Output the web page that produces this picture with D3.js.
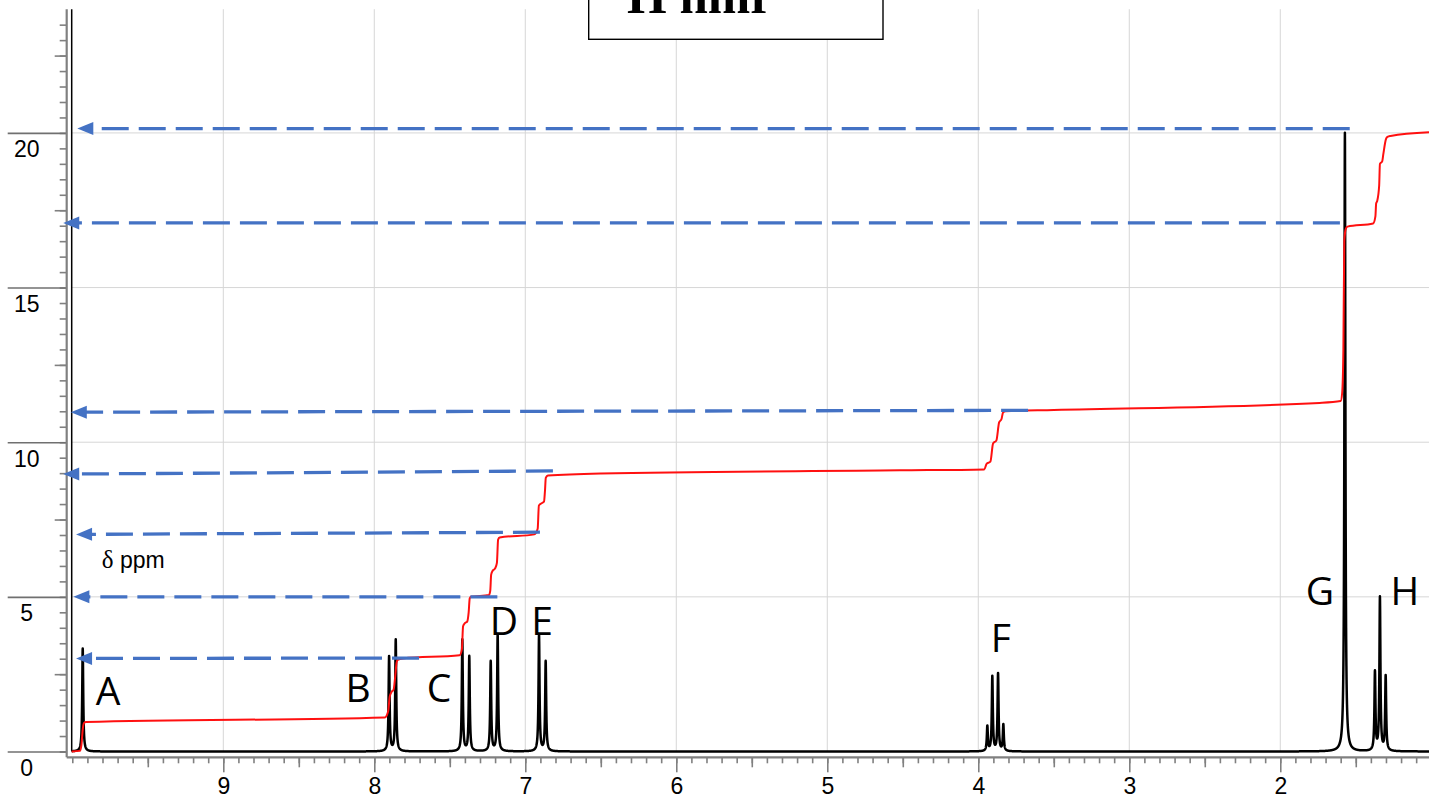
<!DOCTYPE html>
<html>
<head>
<meta charset="utf-8">
<script src="https://d3js.org/d3.v7.min.js"></script>
<style>
  body { margin: 0; background: #fff; }
  svg { display: block; }
</style>
</head>
<body>
<div id="chart"></div>
<script>
// peak list (ppm, height in integral units)
const peakPpm    = [9.931, 7.902, 7.858, 7.417, 7.371, 7.229, 7.183, 6.909, 6.865,
                    3.940, 3.907, 3.869, 3.834, 1.572, 1.373, 1.340, 1.302];
const peakHeight = [3.33, 3.06, 3.60, 3.60, 3.06, 2.90, 3.76, 3.76, 2.90,
                    0.80, 2.41, 2.50, 0.85, 20.0, 2.54, 4.95, 2.41];
const lineWidthPpm = 0.004;

// integral trace (ppm, value)
const integralPpm = [10.004, 9.95, 9.94, 9.93, 9.922, 9.91, 7.93, 7.908, 7.898, 7.885, 7.872, 7.862,
  7.852, 7.845, 7.81, 7.435, 7.42, 7.412, 7.40, 7.385, 7.375, 7.368, 7.36, 7.24, 7.232, 7.226,
  7.215, 7.20, 7.188, 7.18, 7.17, 6.94, 6.918, 6.91, 6.895, 6.876, 6.87, 6.864, 6.85, 6.5, 4.52,
  3.96, 3.945, 3.92, 3.902, 3.88, 3.862, 3.846, 3.836, 3.82, 3.5, 1.74, 1.60, 1.59, 1.582, 1.576,
  1.566, 1.555, 1.385, 1.37, 1.365, 1.358, 1.345, 1.34, 1.325, 1.318, 1.30, 1.29, 1.27, 1.015];
const integralValue = [0.0, 0.02, 0.2, 0.75, 0.92, 0.95, 1.10, 1.3, 1.77, 1.93, 2.0, 2.4,
  2.88, 2.96, 3.01, 3.11, 3.3, 4.05, 4.15, 4.2, 4.5, 4.95, 5.0, 5.06, 5.2, 5.72,
  5.85, 5.92, 6.1, 6.85, 6.92, 7.02, 7.2, 7.95, 8.02, 8.08, 8.4, 8.85, 8.92, 8.99, 9.09,
  9.12, 9.3, 9.37, 9.96, 10.06, 10.64, 10.75, 10.96, 11.0, 11.04, 11.27, 11.33, 11.6, 13, 16.5,
  16.9, 16.97, 17.07, 17.3, 17.72, 17.8, 18.3, 19.0, 19.08, 19.3, 19.8, 19.87, 19.9, 20.02];

// dashed arrows: tail (right) -> tip (left)
const arrowTailPpm   = [1.54, 1.605, 3.67, 6.817, 6.903, 7.185, 7.704];
const arrowTailValue = [20.14, 17.09, 11.03, 9.07, 7.09, 5.0, 3.02];
const arrowTipPpm    = [9.967, 10.06, 10.01, 10.06, 9.975, 9.993, 9.975];
const arrowTipValue  = [20.14, 17.09, 10.97, 8.97, 7.02, 5.0, 3.01];

// peak letters
const labelText  = ["A", "B", "C", "D", "E", "F", "G", "H"];
const labelPpm   = [9.763, 8.108, 7.571, 7.141, 6.889, 3.850, 1.738, 1.175];
const labelValue = [1.50, 1.59, 1.59, 3.76, 3.76, 3.21, 4.73, 4.73];

const xMajorTicks = [9, 8, 7, 6, 5, 4, 3, 2];
const yMajorTicks = [0, 5, 10, 15, 20];

const W = 1429, H = 798;
const svg = d3.select("#chart").append("svg").attr("width", W).attr("height", H);
svg.append("rect").attr("width", W).attr("height", H).attr("fill", "#fff");

const x = d3.scaleLinear().domain([10.004, 1.015]).range([71.7, 1429]);
const y = d3.scaleLinear().domain([0, 24]).range([751.5, 9.2]);
const axisX = 66.7, axisY = 757.3;
const gray = "#808080";
const sans = "'Liberation Sans', Arial, sans-serif";

// grid
const grid = svg.append("g").attr("stroke", "#d6d6d6").attr("stroke-width", 1);
grid.selectAll("line.v").data(xMajorTicks).join("line")
  .attr("x1", d => x(d)).attr("x2", d => x(d)).attr("y1", y(24)).attr("y2", y(0));
grid.selectAll("line.h").data(yMajorTicks.filter(d => d > 0)).join("line")
  .attr("x1", x(10.004)).attr("x2", W).attr("y1", d => y(d)).attr("y2", d => y(d));

// x axis
function xAxisLayer(values, size, labels) {
  const g = svg.append("g").attr("transform", `translate(0,${axisY})`)
    .call(d3.axisBottom(x).tickValues(values).tickSize(size).tickSizeOuter(0)
      .tickFormat(labels ? d3.format("d") : ""));
  g.select(".domain").remove();
  g.selectAll(".tick line").attr("stroke", gray).attr("stroke-width", 1.6);
  g.selectAll(".tick text").attr("y", 20).attr("dy", "0.71em")
    .attr("font-family", sans).attr("font-size", 23).attr("fill", "#000");
}
xAxisLayer(d3.range(1, 101).map(i => i / 10).filter(d => d > 1.015 && d < 10.004), 6, false);
xAxisLayer(d3.range(1.5, 10, 1), 10, false);
xAxisLayer(xMajorTicks, 15, true);

// y axis
function yAxisLayer(values, size, labels) {
  const g = svg.append("g").attr("transform", `translate(${axisX},0)`)
    .call(d3.axisLeft(y).tickValues(values).tickSize(size).tickSizeOuter(0)
      .tickFormat(labels ? d3.format("d") : ""));
  g.select(".domain").remove();
  g.selectAll(".tick line").attr("stroke", labels ? "#707070" : gray).attr("stroke-width", 1.6);
  g.selectAll(".tick text").attr("x", -40).attr("y", 24).attr("dy", 0)
    .attr("text-anchor", "middle")
    .attr("font-family", sans).attr("font-size", 23).attr("fill", "#000");
}
yAxisLayer(d3.range(0, 48).map(i => i / 2), 7, false);
yAxisLayer([2.5, 7.5, 12.5, 17.5, 22.5], 12, false);
yAxisLayer(yMajorTicks, 59, true);

// axis lines and inner frame
svg.append("line").attr("x1", axisX).attr("x2", axisX).attr("y1", y(24)).attr("y2", axisY)
  .attr("stroke", gray).attr("stroke-width", 2.2);
svg.append("line").attr("x1", axisX).attr("x2", W).attr("y1", axisY).attr("y2", axisY)
  .attr("stroke", gray).attr("stroke-width", 2.2);
svg.append("line").attr("x1", x(10.004)).attr("x2", x(10.004)).attr("y1", y(24)).attr("y2", y(0))
  .attr("stroke", "#000").attr("stroke-width", 1.5);

// spectrum: sum of lorentzian lines from the peak list
const samples = d3.range(1.015, 10.004, 0.0005).concat(peakPpm).sort((a, b) => b - a);
const spectrum = samples.map(p => {
  let s = 0;
  peakPpm.forEach((c, i) => {
    const d = p - c;
    s += peakHeight[i] * lineWidthPpm * lineWidthPpm / (d * d + lineWidthPpm * lineWidthPpm);
  });
  return [p, s];
});
svg.append("path").datum(spectrum)
  .attr("fill", "none").attr("stroke", "#000").attr("stroke-width", 2.5)
  .attr("stroke-linejoin", "round")
  .attr("d", d3.line().x(d => x(d[0])).y(d => y(d[1])));

// integral
const integral = integralPpm.map((p, i) => [p, integralValue[i]]);
svg.append("path").datum(integral)
  .attr("fill", "none").attr("stroke", "#ff1010").attr("stroke-width", 2)
  .attr("stroke-linejoin", "round")
  .attr("d", d3.line().x(d => x(d[0])).y(d => y(d[1])).curve(d3.curveMonotoneX));

// dashed arrows
const blue = "#4472c4";
arrowTailPpm.forEach((tp, i) => {
  const x1 = x(tp), y1 = y(arrowTailValue[i]);
  const x2 = x(arrowTipPpm[i]), y2 = y(arrowTipValue[i]);
  const ang = Math.atan2(y2 - y1, x2 - x1);
  const len = 16, half = 6.5;
  const bx = x2 - len * Math.cos(ang), by = y2 - len * Math.sin(ang);
  svg.append("line")
    .attr("x1", x1).attr("y1", y1)
    .attr("x2", x2 - (len - 3) * Math.cos(ang)).attr("y2", y2 - (len - 3) * Math.sin(ang))
    .attr("stroke", blue).attr("stroke-width", 3.3).attr("stroke-dasharray", "27,10");
  const px = -Math.sin(ang), py = Math.cos(ang);
  svg.append("path")
    .attr("d", `M${x2},${y2}L${bx + half * px},${by + half * py}L${bx - half * px},${by - half * py}Z`)
    .attr("fill", blue);
});

// peak letters
svg.selectAll("text.peak").data(labelText).join("text")
  .attr("class", "peak")
  .attr("x", (d, i) => x(labelPpm[i])).attr("y", (d, i) => y(labelValue[i]))
  .attr("text-anchor", "middle")
  .attr("font-family", "'Open Sans', sans-serif").attr("font-size", 39).attr("fill", "#000")
  .text(d => d);

// δ ppm label
const unit = svg.append("text").attr("x", x(9.805)).attr("y", y(5.93))
  .attr("font-family", sans).attr("font-size", 23).attr("fill", "#000");
unit.append("tspan").attr("font-family", "'Liberation Serif', serif").attr("font-size", 25).text("δ");
unit.append("tspan").text(" ppm");

// title box
svg.append("rect").attr("x", 588.7).attr("y", -6).attr("width", 294.3).attr("height", 45.3)
  .attr("fill", "#fff").attr("stroke", "#000").attr("stroke-width", 1.4);
const title = svg.append("text").attr("x", 628).attr("y", 12.7)
  .attr("font-family", "'Liberation Serif', 'Times New Roman', serif")
  .attr("font-weight", "bold").attr("font-size", 51).attr("fill", "#000");
title.append("tspan").attr("font-size", 30).attr("dx", -16).attr("dy", -22).text("1");
title.append("tspan").attr("dy", 22).text("H nmr");
</script>
</body>
</html>
